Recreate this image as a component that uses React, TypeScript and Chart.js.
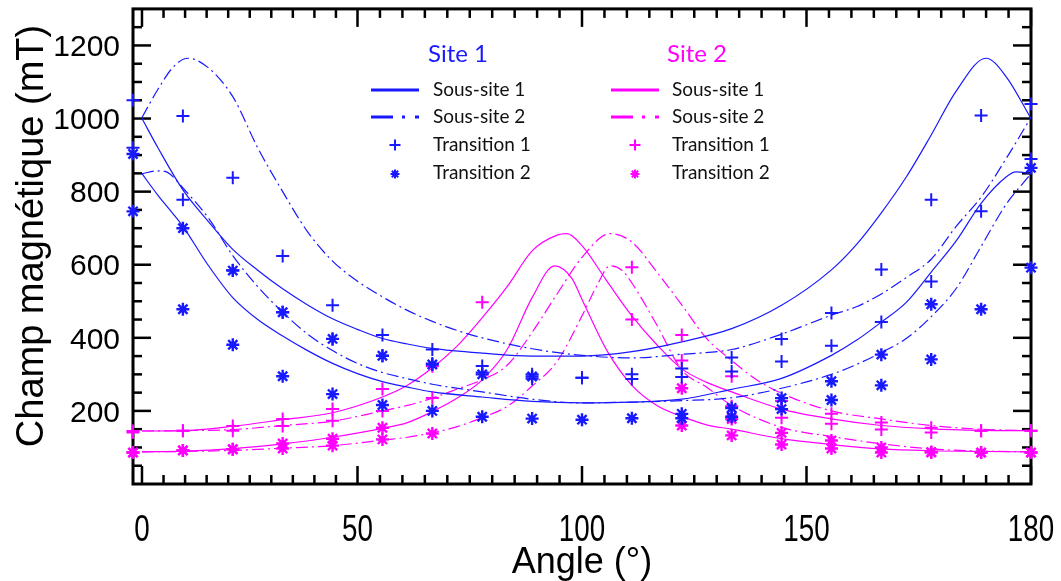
import React, { useEffect, useRef } from "react";
import { Chart, registerables } from "chart.js";

Chart.register(...registerables);

const BLUE = "rgb(25,25,255)";
const MAGENTA = "rgb(255,0,255)";
const FONT = "'Liberation Sans', Arial, sans-serif";
const LEGEND_FONT = "Lato, 'Open Sans', sans-serif";

// ---- measured angles (markers) ----
const ANGLES = [0, 10, 20, 30, 40, 50, 60, 70, 80, 90, 100, 110, 120, 130, 140, 150, 160, 170, 180];

// Site 1 (blue) markers
const site1Trans1A = [1050, 1007, 838, 624, 489, 408, 368, 323, 300, 291, 300, 316, 346, 397, 468, 587, 778, 1008, 1040];
const site1Trans1B = [920, 778, 585, 470, 397, 351, 330, 305, 288, 291, 287, 293, 308, 335, 378, 443, 554, 746, 889];
const site1Trans2A = [903, 700, 584, 470, 397, 351, 327, 300, 294, null, null, 192, 208, 235, 281, 354, 492, null, 865];
const site1Trans2B = [746, 478, 381, 295, 246, 216, 200, 184, 179, 176, 180, 180, 184, 205, 230, 270, 341, 478, 592];

// Site 2 (magenta) markers
const site2Trans1A = [145, 146, 159, 178, 205, 260, 322, 497, null, null, 593, 408, 295, 227, 192, 168, 154, 146, 146];
const site2Trans1B = [141, 146, 146, 159, 173, 200, 235, null, null, null, 450, 338, 213, 181, 165, 149, 141, 146, 146];
const site2Trans2A = [86, 92, 95, 111, 124, 154, null, null, null, null, null, 262, 178, 140, 119, 100, 87, 86, 86];
const site2Trans2B = [86, 92, 95, 97, 105, 122, 138, null, null, null, null, 160, 133, 108, 97, 86, 87, 86, 86];

// ---- simulated curves ----
// Site 1, sous-site 1 (solid)
const s1ss1UpperX = [1.8, 5, 10, 15, 20, 25, 30, 35, 40, 45, 50, 55, 60, 70, 80, 90, 100, 110, 120, 130, 140, 145, 150, 155, 160, 165, 171, 175, 180];
const s1ss1UpperY = [1000, 920, 805, 720, 642, 585, 534, 490, 452, 423, 398, 383, 371, 358, 350, 350, 362, 389, 425, 489, 586, 655, 742, 840, 955, 1075, 1165, 1115, 1000];
const s1ss1LowerX = [1.8, 5, 8, 10, 15, 20, 25, 30, 35, 40, 45, 50, 55, 60, 70, 80, 90, 100, 110, 120, 130, 140, 145, 150, 155, 160, 165, 170, 175, 177, 180];
const s1ss1LowerY = [849, 790, 740, 705, 600, 510, 450, 405, 365, 330, 302, 280, 265, 252, 238, 226, 222, 224, 232, 259, 289, 352, 393, 443, 497, 580, 665, 768, 840, 854, 849];
// Site 1, sous-site 2 (dash-dot)
const s1ss2UpperX = [1.8, 5, 8, 11, 15, 20, 25, 30, 35, 40, 45, 50, 55, 60, 65, 70, 80, 90, 100, 110, 120, 130, 140, 145, 150, 155, 160, 165, 170, 175, 180];
const s1ss2UpperY = [1003, 1080, 1140, 1165, 1140, 1060, 920, 800, 690, 610, 555, 512, 475, 445, 420, 400, 370, 352, 345, 355, 368, 410, 462, 485, 520, 565, 615, 705, 785, 890, 1003];
const s1ss2LowerX = [1.8, 5, 7, 10, 15, 20, 25, 30, 35, 40, 45, 50, 55, 60, 70, 80, 90, 100, 110, 120, 130, 140, 145, 150, 155, 160, 165, 170, 175, 180];
const s1ss2LowerY = [849, 857, 852, 810, 730, 625, 540, 470, 410, 365, 330, 305, 288, 273, 252, 232, 222, 224, 228, 236, 262, 300, 327, 360, 398, 458, 535, 650, 765, 849];
// Site 2, sous-site 1 (solid)
const s2ss1UpperX = [1.8, 10, 20, 30, 40, 50, 55, 60, 65, 70, 75, 80, 85, 87, 90, 95, 100, 105, 110, 115, 120, 130, 140, 150, 160, 170, 180];
const s2ss1UpperY = [145, 146, 158, 176, 195, 238, 270, 318, 378, 455, 540, 638, 681, 685, 652, 555, 460, 381, 315, 278, 252, 205, 178, 160, 151, 147, 146];
const s2ss1LowerX = [1.8, 10, 20, 30, 40, 50, 55, 60, 65, 70, 75, 80, 84.5, 88, 90, 95, 100, 105, 110, 115, 120, 130, 140, 150, 160, 170, 180];
const s2ss1LowerY = [88, 90, 97, 110, 128, 152, 168, 198, 235, 285, 368, 510, 597, 562, 505, 365, 270, 215, 185, 162, 150, 124, 108, 96, 91, 89, 88];
// Site 2, sous-site 2 (dash-dot)
const s2ss2UpperX = [1.8, 10, 20, 30, 40, 50, 55, 60, 65, 70, 75, 80, 85, 90, 95.6, 100, 105, 110, 115, 120, 125, 130, 140, 150, 160, 170, 180];
const s2ss2UpperY = [145, 146, 149, 160, 172, 200, 215, 235, 260, 285, 325, 415, 520, 620, 685, 662, 580, 490, 398, 338, 285, 248, 200, 178, 160, 150, 146];
const s2ss2LowerX = [1.8, 10, 20, 30, 40, 50, 55, 60, 65, 70, 75, 80, 85, 90, 93, 95.6, 98, 100, 105, 110, 115, 120, 130, 140, 150, 160, 170, 180];
const s2ss2LowerY = [88, 89, 92, 98, 105, 120, 128, 140, 157, 182, 212, 268, 335, 460, 543, 597, 585, 550, 435, 312, 265, 215, 155, 130, 110, 96, 90, 88];

// ---- axes ----
const X_MAJOR_TICKS = [1.8, 45, 90, 135, 180];
const X_TICK_LABELS = ["0", "50", "100", "150", "180"];
const Y_MAJOR_TICKS = [200, 400, 600, 800, 1000, 1200];
const X_TITLE = "Angle (°)";
const Y_TITLE = "Champ magnétique (mT)";

// ---- legend ----
const SITE_TITLES = ["Site 1", "Site 2"];
const LEGEND_LABELS = ["Sous-site 1", "Sous-site 2", "Transition 1", "Transition 2"];

const pts = (xs: number[], ys: (number | null)[]) =>
  xs.map((x, i) => ({ x, y: ys[i] })).filter((p) => p.y !== null) as { x: number; y: number }[];

const DASHDOT = [12, 4, 2, 4];

function curve(xs: number[], ys: number[], color: string, dashed: boolean) {
  return {
    data: pts(xs, ys),
    showLine: true,
    borderColor: color,
    backgroundColor: color,
    borderWidth: 1.2,
    borderDash: dashed ? DASHDOT : [],
    pointRadius: 0,
    cubicInterpolationMode: "monotone" as const,
    fill: false,
    order: 3,
  };
}

function markers(ys: (number | null)[], color: string, style: "cross" | "star", order: number) {
  return {
    data: pts(ANGLES, ys),
    showLine: false,
    pointStyle: style,
    pointRadius: 6.5,
    pointBorderWidth: style === "cross" ? 2 : 2.4,
    borderColor: color,
    backgroundColor: color,
    pointBorderColor: color,
    order,
    clip: false as const,
  };
}

const line = (ctx: CanvasRenderingContext2D, x1: number, y1: number, x2: number, y2: number) => {
  ctx.beginPath();
  ctx.moveTo(x1, y1);
  ctx.lineTo(x2, y2);
  ctx.stroke();
};

function drawPlus(ctx: CanvasRenderingContext2D, x: number, y: number, r: number) {
  line(ctx, x - r, y, x + r, y);
  line(ctx, x, y - r, x, y + r);
}
function drawStar(ctx: CanvasRenderingContext2D, x: number, y: number, r: number) {
  drawPlus(ctx, x, y, r);
  const d = r * Math.SQRT1_2;
  line(ctx, x - d, y - d, x + d, y + d);
  line(ctx, x - d, y + d, x + d, y - d);
}

const framePlugin = {
  id: "frame",
  beforeDatasetsDraw(chart: any) {
    const { ctx, chartArea: a, scales } = chart;
    const xs = scales.x;
    const ys = scales.y;
    ctx.save();
    ctx.strokeStyle = "#000";
    ctx.lineWidth = 2.5;
    ctx.lineCap = "butt";
    const MAJ = 18;
    const MIN = 9;
    for (let i = 0; i < X_MAJOR_TICKS.length; i++) {
      const v = X_MAJOR_TICKS[i];
      const px = xs.getPixelForValue(v);
      line(ctx, px, a.bottom, px, a.bottom - MAJ);
      line(ctx, px, a.top, px, a.top + MAJ);
      if (i < X_MAJOR_TICKS.length - 1) {
        const nxt = X_MAJOR_TICKS[i + 1];
        for (let k = 1; k < 10; k++) {
          const pv = xs.getPixelForValue(v + ((nxt - v) * k) / 10);
          line(ctx, pv, a.bottom, pv, a.bottom - MIN);
          line(ctx, pv, a.top, pv, a.top + MIN);
        }
      }
    }
    for (let v = 50; v < ys.max; v += 50) {
      const py = ys.getPixelForValue(v);
      const len = Y_MAJOR_TICKS.includes(v) ? MAJ : MIN;
      line(ctx, a.left, py, a.left + len, py);
      line(ctx, a.right, py, a.right - len, py);
    }
    ctx.lineWidth = 3;
    ctx.strokeRect(a.left, a.top, a.right - a.left, a.bottom - a.top);
    ctx.restore();
  },
  afterDraw(chart: any) {
    const { ctx, chartArea: a, scales } = chart;
    const xs = scales.x;
    const ys = scales.y;
    ctx.save();
    ctx.fillStyle = "#000";
    // y tick labels
    ctx.font = `30px ${FONT}`;
    ctx.textAlign = "right";
    ctx.textBaseline = "alphabetic";
    for (const v of Y_MAJOR_TICKS) {
      ctx.fillText(String(v), 120, ys.getPixelForValue(v) + 10.7);
    }
    // x tick labels (condensed)
    ctx.font = `37px ${FONT}`;
    ctx.textAlign = "center";
    X_MAJOR_TICKS.forEach((v, i) => {
      ctx.save();
      ctx.translate(xs.getPixelForValue(v), 541);
      ctx.scale(0.75, 1);
      ctx.fillText(X_TICK_LABELS[i], 0, 0);
      ctx.restore();
    });
    // x title
    ctx.font = `36px ${FONT}`;
    ctx.fillText(X_TITLE, (a.left + a.right) / 2, 573);
    // y title
    ctx.save();
    ctx.translate(43, 236);
    ctx.rotate(-Math.PI / 2);
    ctx.font = `38px ${FONT}`;
    ctx.textAlign = "center";
    ctx.fillText(Y_TITLE, 0, 0);
    ctx.restore();

    // legend
    const cols = [
      { color: BLUE, lineX: 371, textX: 433, titleX: 458 },
      { color: MAGENTA, lineX: 611, textX: 672, titleX: 697 },
    ];
    const rowsY = [90, 117, 145, 173];
    cols.forEach((c, ci) => {
      ctx.fillStyle = c.color;
      ctx.font = `24px ${LEGEND_FONT}`;
      ctx.textAlign = "center";
      ctx.textBaseline = "middle";
      ctx.fillText(SITE_TITLES[ci], c.titleX, 54);
      ctx.strokeStyle = c.color;
      ctx.lineWidth = 3;
      ctx.setLineDash([]);
      line(ctx, c.lineX, rowsY[0], c.lineX + 48, rowsY[0]);
      ctx.setLineDash([22, 9, 3, 10]);
      line(ctx, c.lineX, rowsY[1], c.lineX + 48, rowsY[1]);
      ctx.setLineDash([]);
      ctx.lineWidth = 2;
      drawPlus(ctx, c.lineX + 24, rowsY[2], 5.5);
      drawStar(ctx, c.lineX + 24, rowsY[3] + 1, 4.5);
      ctx.fillStyle = "#111";
      ctx.font = `19px ${LEGEND_FONT}`;
      ctx.textAlign = "left";
      LEGEND_LABELS.forEach((lab, i) => ctx.fillText(lab, c.textX, rowsY[i]));
    });
    ctx.restore();
  },
};

export default function App() {
  const ref = useRef<HTMLCanvasElement>(null);
  useEffect(() => {
    document.body.style.margin = "0";
    const datasets: any[] = [
      curve(s1ss1UpperX, s1ss1UpperY, BLUE, false),
      curve(s1ss1LowerX, s1ss1LowerY, BLUE, false),
      curve(s1ss2UpperX, s1ss2UpperY, BLUE, true),
      curve(s1ss2LowerX, s1ss2LowerY, BLUE, true),
      curve(s2ss1UpperX, s2ss1UpperY, MAGENTA, false),
      curve(s2ss1LowerX, s2ss1LowerY, MAGENTA, false),
      curve(s2ss2UpperX, s2ss2UpperY, MAGENTA, true),
      curve(s2ss2LowerX, s2ss2LowerY, MAGENTA, true),
      markers(site2Trans1A, MAGENTA, "cross", 2),
      markers(site2Trans1B, MAGENTA, "cross", 2),
      markers(site2Trans2A, MAGENTA, "star", 2),
      markers(site2Trans2B, MAGENTA, "star", 2),
      markers(site1Trans1A, BLUE, "cross", 1),
      markers(site1Trans1B, BLUE, "cross", 1),
      markers(site1Trans2A, BLUE, "star", 1),
      markers(site1Trans2B, BLUE, "star", 1),
    ];
    const chart = new Chart(ref.current as HTMLCanvasElement, {
      type: "scatter",
      data: { datasets },
      options: {
        responsive: false,
        animation: false,
        layout: { padding: { left: 133, right: 30, top: 4, bottom: 97 } },
        scales: {
          x: { type: "linear", min: 0, max: 180, display: false },
          y: { type: "linear", min: 0, max: 1300, display: false },
        },
        plugins: { legend: { display: false }, tooltip: { enabled: false } },
      },
      plugins: [framePlugin],
    });
    return () => chart.destroy();
  }, []);
  return (
    <div style={{ position: "absolute", left: 0, top: 0, width: 1061, height: 581, background: "#fff" }}>
      <canvas ref={ref} width={1061} height={581} style={{ display: "block" }} />
    </div>
  );
}
